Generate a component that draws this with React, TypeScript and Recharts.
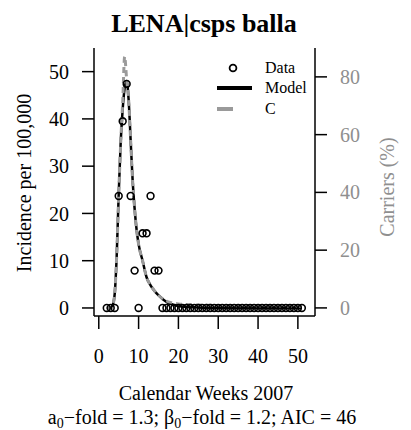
import { ComposedChart, Line, Scatter, XAxis, YAxis } from 'recharts';

const weeks = [2, 3, 4, 5, 6, 7, 8, 9, 10, 11, 12, 13, 14, 15, 16, 17, 18, 19, 20, 21, 22, 23, 24, 25, 26, 27, 28, 29, 30, 31, 32, 33, 34, 35, 36, 37, 38, 39, 40, 41, 42, 43, 44, 45, 46, 47, 48, 49, 50, 51];
const incidence = [0, 0, 0, 23.7, 39.5, 47.4, 23.7, 7.9, 0, 15.8, 15.8, 23.7, 7.9, 7.9, 0, 0, 0, 0, 0, 0, 0, 0, 0, 0, 0, 0, 0, 0, 0, 0, 0, 0, 0, 0, 0, 0, 0, 0, 0, 0, 0, 0, 0, 0, 0, 0, 0, 0, 0, 0];

const curveWeeks = [2, 3, 3.5, 4, 4.5, 5, 5.5, 6, 6.5, 7, 7.5, 8, 8.5, 9, 9.5, 10, 11, 12, 13, 14, 15, 16, 17, 18, 19, 20, 22, 25, 28, 32, 40, 51];
const modelValues = [0, 0, 0.6, 3, 11, 24, 35, 42, 46.5, 48, 44, 35.5, 27, 21, 16.5, 13.5, 10, 6.5, 4.8, 3.6, 2.7, 1.9, 1.3, 0.9, 0.6, 0.4, 0.2, 0.1, 0, 0, 0, 0];
const carrierValues = [0, 0, 1, 5, 18, 39, 57, 71, 87, 79, 72, 58, 44, 34.4, 27, 22, 16.4, 10.6, 7.9, 5.9, 4.4, 3.2, 2.4, 1.9, 1.6, 1.4, 1.2, 1.0, 0.9, 0.8, 0.7, 0.5];

const xTicks = [0, 10, 20, 30, 40, 50];
const leftTicks = [0, 10, 20, 30, 40, 50];
const rightTicks = [0, 20, 40, 60, 80];

const points = weeks.map((w, i) => ({ week: w, inc: incidence[i] }));
const model = curveWeeks.map((w, i) => ({ week: w, model: modelValues[i] }));
const carriers = curveWeeks.map((w, i) => ({ week: w, c: carrierValues[i] }));

const FONT = '"Liberation Serif", "DejaVu Serif", serif';
const GRAY = '#8f8f8f';

export default function App() {
  return (
    <div style={{ position: 'absolute', left: 0, top: 0, width: 411, height: 430, background: '#fff' }}>
      <ComposedChart width={411} height={430} margin={{ top: 48, right: 0, left: 0, bottom: 0 }}>
        {/* frame top */}
        <XAxis xAxisId="top" orientation="top" type="number" domain={[0, 1]} height={0} tick={false} tickLine={false} axisLine={{ stroke: '#000', strokeWidth: 1.5 }} />
        <XAxis
          dataKey="week"
          type="number"
          domain={[-1.2, 54.3]}
          ticks={xTicks}
          allowDataOverflow
          height={114}
          tickSize={13}
          tickMargin={20}
          axisLine={{ stroke: '#000', strokeWidth: 1.5 }}
          tickLine={{ stroke: '#000', strokeWidth: 1.5 }}
          tick={{ fontSize: 20, fill: '#000', fontFamily: FONT }}
        />
        <YAxis
          yAxisId="left"
          domain={[-1.7, 55]}
          ticks={leftTicks}
          allowDataOverflow
          width={94}
          tickSize={12}
          tickMargin={13}
          axisLine={{ stroke: '#000', strokeWidth: 1.5 }}
          tickLine={{ stroke: '#000', strokeWidth: 1.5 }}
          tick={{ fontSize: 20, fill: '#000', fontFamily: FONT }}
        />
        <YAxis
          yAxisId="right"
          orientation="right"
          domain={[-2.8, 90]}
          ticks={rightTicks}
          allowDataOverflow
          width={96}
          tickSize={12}
          tickMargin={13}
          axisLine={{ stroke: '#000', strokeWidth: 1.5 }}
          tickLine={{ stroke: '#000', strokeWidth: 1.5 }}
          tick={{ fontSize: 20, fill: GRAY, fontFamily: FONT }}
        />
        <Line data={model} yAxisId="left" dataKey="model" type="monotone" stroke="#000" strokeWidth={2.5} dot={false} activeDot={false} isAnimationActive={false} />
        <Line data={carriers} yAxisId="right" dataKey="c" type="monotone" stroke="#9a9a9a" strokeWidth={3} strokeDasharray="6 4" dot={false} activeDot={false} isAnimationActive={false} />
        <Scatter
          data={points}
          yAxisId="left"
          dataKey="inc"
          isAnimationActive={false}
          shape={(p: any) => <circle cx={p.cx} cy={p.cy} r={3.4} fill="none" stroke="#000" strokeWidth={1.6} />}
        />
      </ComposedChart>

      <svg width={411} height={430} style={{ position: 'absolute', left: 0, top: 0, pointerEvents: 'none' }} fontFamily={FONT}>
        <text x={204} y={32} textAnchor="middle" fontSize={26} fontWeight="bold" fill="#000">LENA|csps balla</text>
        <text transform="translate(31,183) rotate(-90)" textAnchor="middle" fontSize={20} fill="#000">Incidence per 100,000</text>
        <text transform="translate(394,187) rotate(-90)" textAnchor="middle" fontSize={20} fill={GRAY}>Carriers (%)</text>
        <text x={206} y={400} textAnchor="middle" fontSize={20} fill="#000">Calendar Weeks 2007</text>
        <text x={202} y={424} textAnchor="middle" fontSize={20} fill="#000">
          a<tspan fontSize={14} dy={4}>0</tspan><tspan dy={-4}>−fold = 1.3; β</tspan><tspan fontSize={14} dy={4}>0</tspan><tspan dy={-4}>−fold = 1.2; AIC = 46</tspan>
        </text>
        {/* legend */}
        <circle cx={233} cy={68} r={3.4} fill="none" stroke="#000" strokeWidth={1.8} />
        <text x={265} y={73} fontSize={16} fill="#000">Data</text>
        <line x1={217} x2={252} y1={88} y2={88} stroke="#000" strokeWidth={4} />
        <text x={265} y={93} fontSize={16} fill="#000">Model</text>
        <line x1={217} x2={233} y1={109} y2={109} stroke="#9a9a9a" strokeWidth={4} />
        <text x={265} y={114} fontSize={16} fill="#000">C</text>
      </svg>
    </div>
  );
}
